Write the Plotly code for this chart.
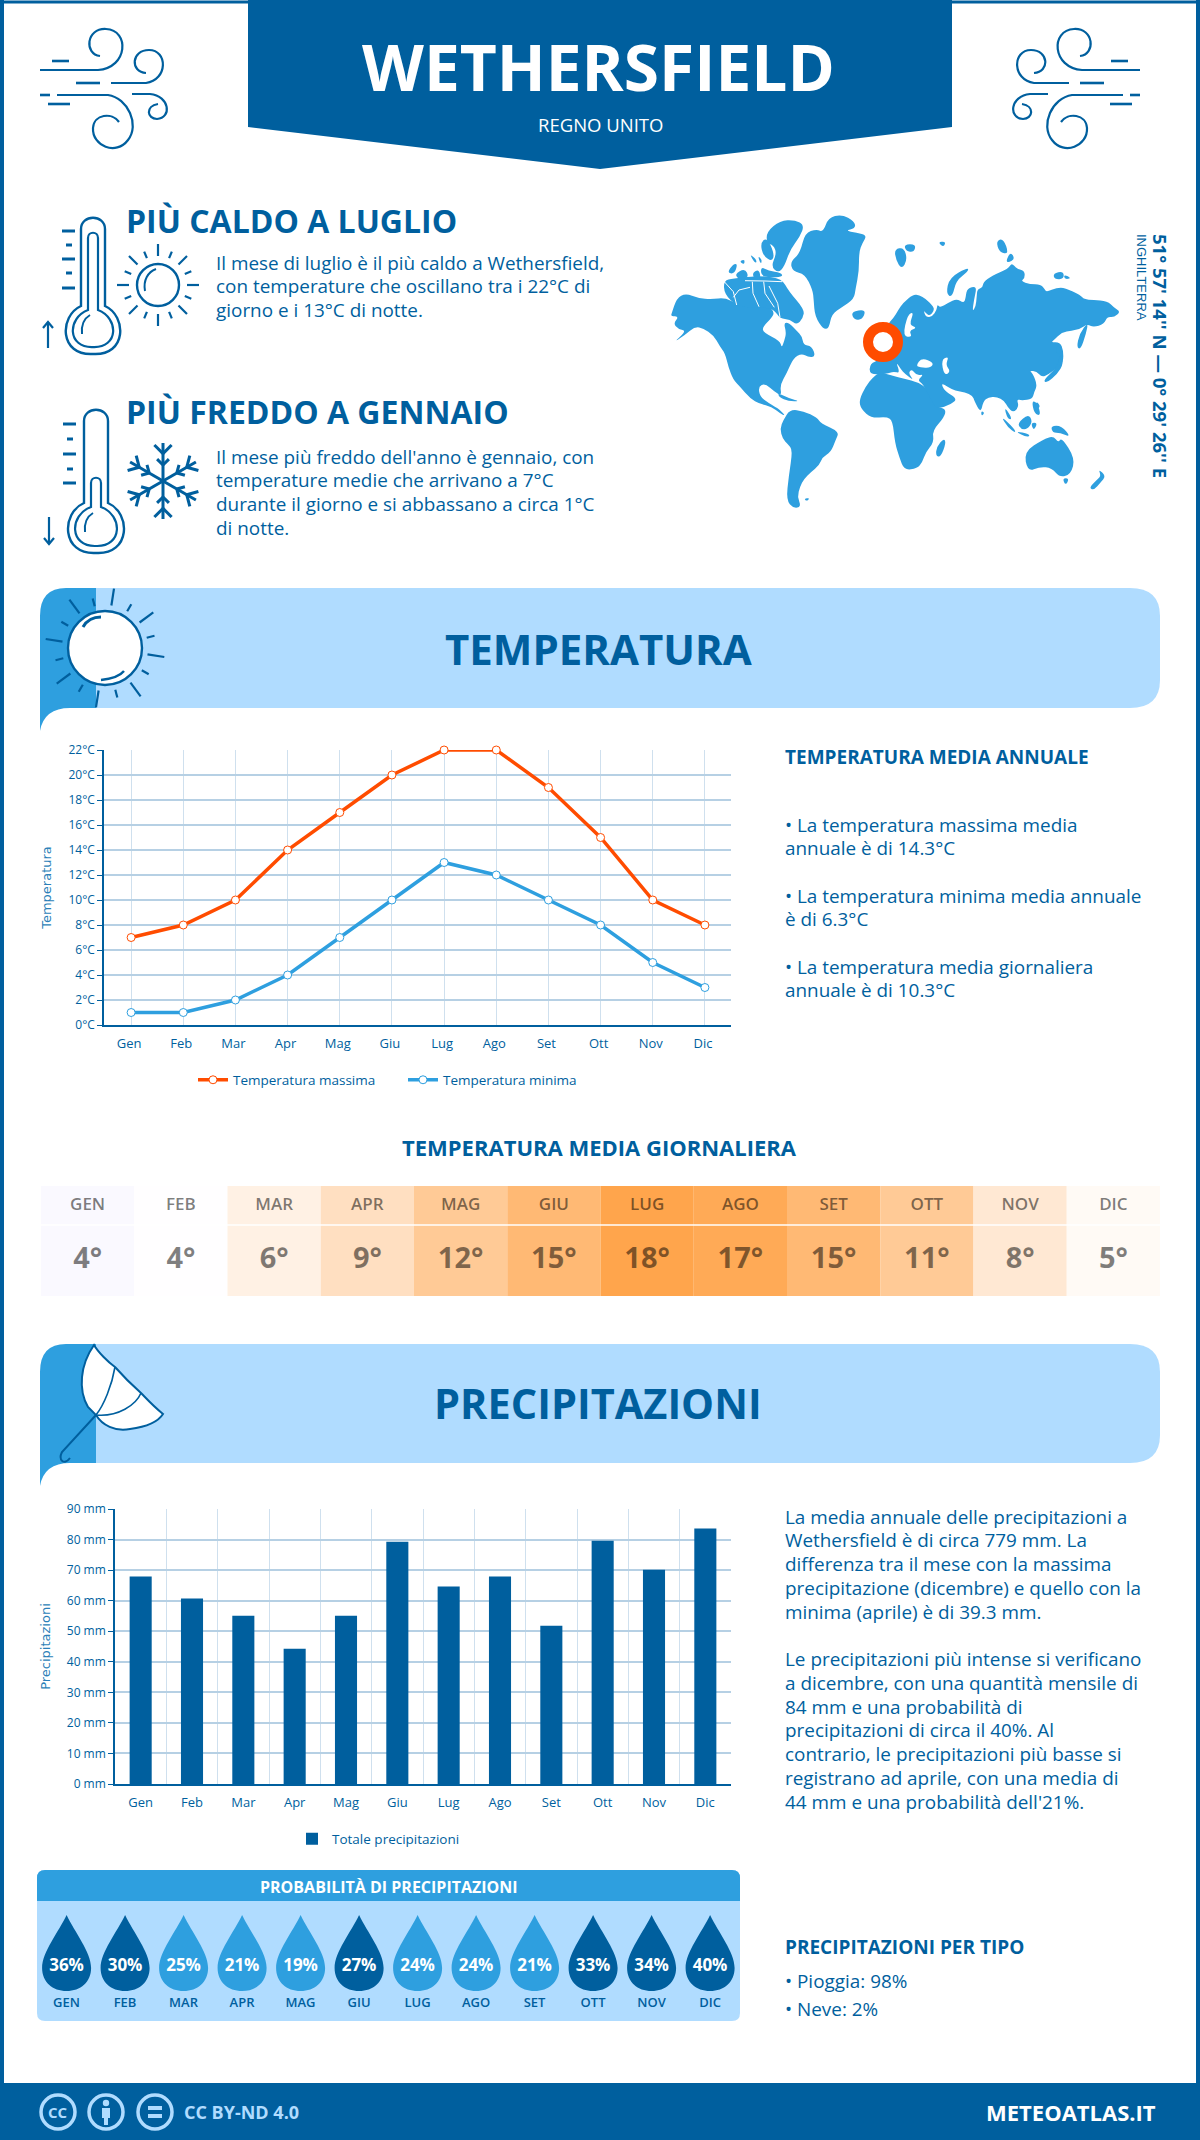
import math
import plotly.graph_objects as go

MONTHS = ["Gen", "Feb", "Mar", "Apr", "Mag", "Giu", "Lug", "Ago", "Set", "Ott", "Nov", "Dic"]
TEMP_MAX = [7, 8, 10, 14, 17, 20, 22, 22, 19, 15, 10, 8]
TEMP_MIN = [1, 1, 2, 4, 7, 10, 13, 12, 10, 8, 5, 3]
TEMP_MEAN = [4, 4, 6, 9, 12, 15, 18, 17, 15, 11, 8, 5]
RAIN_MM = [67.9, 60.7, 55.1, 44.3, 55.1, 79.3, 64.6, 67.9, 51.8, 79.6, 70.1, 83.6]
RAIN_PROB = [36, 30, 25, 21, 19, 27, 24, 24, 21, 33, 34, 40]
TEMP_TICKS = list(range(0, 23, 2))
RAIN_TICKS = list(range(0, 91, 10))

BLUE = "#005f9e"
MID = "#2e9fdf"
PALE = "#b0dcff"
ORANGE = "#ff4c00"
GRID = "#b6d0e4"
HEAT = ["#faf9ff", "#fffeff", "#fff1e4", "#ffdfc1", "#ffca96", "#ffb974",
        "#ffa54c", "#ffaa56", "#ffb974", "#ffca96", "#ffe8d3", "#fffaf5"]

W, H = 1200, 2140
shapes = []
notes = []


def dom_x(a, b):
    return [a / W, b / W]


def dom_y(top, bottom):
    return [1 - bottom / H, 1 - top / H]


def T(x, y, text, size, color=BLUE, weight=400, anchor="left", angle=0, family="Open Sans"):
    notes.append(dict(x=x, y=y, xref="x", yref="y", text=text, showarrow=False, xanchor=anchor,
                      yanchor="middle", textangle=angle,
                      font=dict(family=family, size=size, color=color, weight=weight)))


def lines(x, ys, rows, size, **kw):
    for y, row in zip(ys, rows):
        T(x, y, row, size, **kw)


def path(d, fill=None, line=None, width=2, layer="below"):
    shapes.append(dict(type="path", path=d, xref="x", yref="y", layer=layer,
                       fillcolor=fill or "rgba(0,0,0,0)",
                       line=dict(color=line or "rgba(0,0,0,0)", width=width if line else 0)))


def circle(cx, cy, r, fill=None, line=None, width=2, layer="below"):
    shapes.append(dict(type="circle", x0=cx - r, x1=cx + r, y0=cy - r, y1=cy + r, xref="x", yref="y",
                       layer=layer, fillcolor=fill or "rgba(0,0,0,0)",
                       line=dict(color=line or "rgba(0,0,0,0)", width=width if line else 0)))


def seg(x0, y0, x1, y1, color=BLUE, width=2):
    path(f"M{x0:.1f} {y0:.1f} L{x1:.1f} {y1:.1f}", line=color, width=width)


def round_rect(x0, y0, x1, y1, r):
    return (f"M{x0+r} {y0} L{x1-r} {y0} Q{x1} {y0} {x1} {y0+r} L{x1} {y1-r} Q{x1} {y1} {x1-r} {y1} "
            f"L{x0+r} {y1} Q{x0} {y1} {x0} {y1-r} L{x0} {y0+r} Q{x0} {y0} {x0+r} {y0} Z")


def wind(mx=None):
    def fx(x):
        return x if mx is None else mx - x

    def p(d):
        out = []
        for tok in d.split():
            if tok[0] in "MLC":
                out.append(tok[0] + f"{fx(float(tok[1:])):.1f}")
                odd = False
            else:
                val = float(tok)
                out.append(f"{val:.1f}" if not odd else f"{fx(val):.1f}")
                odd = not odd
        return " ".join(out)

    w = 2.2
    path(p("M40 70 L98 70 C128 68 130 30 106 29 C86 28 84 54 100 56"), line=BLUE, width=w)
    path(p("M111 83 L146 83 C168 80 168 50 149 50 C131 50 130 72 146 73"), line=BLUE, width=w)
    path(p("M57 95 L108 95 C128 98 140 125 128 140 C116 156 92 146 93 128 C94 114 112 112 119 122"), line=BLUE, width=w)
    path(p("M132 94 L150 94 C170 96 172 118 157 119 C147 119 145 106 158 104"), line=BLUE, width=w)
    for a, b, y in [(52, 69, 61), (76, 100, 83), (40, 50, 95), (48, 70, 104)]:
        path(p(f"M{a} {y} L{b} {y}"), line=BLUE, width=w + 0.4)


def thermometer(cx, top, by, r, inner_top, arrow_x, ay0, ay1, ticks, tx0):
    hw = 12
    stem = by - r + 4
    path(f"M{cx-hw} {stem} L{cx-hw} {top+hw} C{cx-hw} {top-3} {cx+hw} {top-3} {cx+hw} {top+hw} L{cx+hw} {stem} "
         f"C{cx+r+8} {by-r+14} {cx+r+8} {by+r+2} {cx} {by+r} C{cx-r-8} {by+r+2} {cx-r-8} {by-r+14} {cx-hw} {stem} Z",
         fill="white", line=BLUE, width=2.4)
    iw = 5
    ins = by - r + 8
    path(f"M{cx-iw} {ins} L{cx-iw} {inner_top+iw} C{cx-iw} {inner_top-2} {cx+iw} {inner_top-2} {cx+iw} {inner_top+iw} L{cx+iw} {ins} "
         f"C{cx+r} {by-r+16} {cx+r} {by+r-6} {cx} {by+r-7} C{cx-r} {by+r-6} {cx-r} {by-r+16} {cx-iw} {ins} Z",
         line=BLUE, width=2.2)
    path(f"M{cx-11} {by+6} C{cx-12} {by-4} {cx-8} {by-10} {cx-3} {by-13}", line=BLUE, width=2)
    for i, y in enumerate(ticks):
        seg(tx0 + (4 if i % 2 else 0), y, tx0 + (10 if i % 2 else 13), y, width=3)
    seg(arrow_x, ay0, arrow_x, ay1, width=2.2)
    d = 6 if ay1 > ay0 else -6
    path(f"M{arrow_x-5} {ay1-d} L{arrow_x} {ay1} L{arrow_x+5} {ay1-d}", line=BLUE, width=2.2)


def rays(cx, cy, r0, r1, n, start=0.0, alt=0, width=2.2, color=BLUE):
    for i in range(n):
        a = start + i * 2 * math.pi / n
        rr = r1 - (alt if i % 2 else 0)
        seg(cx + r0 * math.cos(a), cy + r0 * math.sin(a), cx + rr * math.cos(a), cy + rr * math.sin(a), color, width)


def snowflake(cx, cy, r):
    for i in range(6):
        a = i * math.pi / 3 + math.pi / 2
        ca, sa = math.cos(a), math.sin(a)
        seg(cx, cy, cx + r * ca, cy + r * sa, width=3)
        for f, b in [(0.72, 0.32), (0.42, 0.22)]:
            for sgn in (-1, 1):
                a2 = a + sgn * math.pi / 4
                seg(cx + r * f * ca, cy + r * f * sa, cx + r * f * ca + r * b * math.cos(a2),
                    cy + r * f * sa + r * b * math.sin(a2), width=3)


def banner(top, bottom):
    path(f"M96 {top} L1130 {top} Q1160 {top} 1160 {top+28} L1160 {bottom-28} Q1160 {bottom} 1130 {bottom} L96 {bottom} Z", fill=PALE)
    path(f"M96 {top} L66 {top} Q40 {top} 40 {top+28} L40 {bottom+23} Q44 {bottom} 70 {bottom} L96 {bottom} Z", fill=MID)


def land(pts, ox, oy, fill=MID):
    # rounded outline through edge midpoints, the outlines were traced at 3x
    pp = [(ox + x / 3, oy + y / 3) for x, y in pts]
    n = len(pp)
    mid = [((pp[i][0] + pp[(i + 1) % n][0]) / 2, (pp[i][1] + pp[(i + 1) % n][1]) / 2) for i in range(n)]
    d = f"M{mid[-1][0]:.1f} {mid[-1][1]:.1f}"
    for i in range(n):
        d += f" Q{pp[i][0]:.1f} {pp[i][1]:.1f} {mid[i][0]:.1f} {mid[i][1]:.1f}"
    path(d + " Z", fill=fill)


def channel(pts, ox, oy):
    d = "M" + " L".join(f"{ox + x / 3:.1f} {oy + y / 3:.1f}" for x, y in pts)
    path(d, line="white", width=1)


# page frame and header
path(f"M2 0 L2 {H}", line=BLUE, width=4)
path(f"M{W-2} 0 L{W-2} {H}", line=BLUE, width=4)
path(f"M0 2 L{W} 2", line=BLUE, width=3)
path("M248 0 L952 0 L952 127 L600 169 L248 127 Z", fill=BLUE)
wind()
wind(1180)
T(598.5, 66, "WETHERSFIELD", 64, "white", 700, "center")
T(600, 124, "REGNO UNITO", 18.5, "white", 400, "center")

# hottest and coldest months
thermometer(93, 217, 328, 26, 233, 48, 348, 322, [231, 245, 259, 273, 288], 62)
circle(158, 285, 21, line=BLUE, width=2.4)
path("M145 291 C143 280 148 272 156 269", line=BLUE, width=2)
rays(158, 285, 29, 41, 16, alt=5)
T(124, 220, "PIÙ CALDO A LUGLIO", 32, BLUE, 700)
lines(213.5, [263, 286, 310],
      ["Il mese di luglio è il più caldo a Wethersfield,",
       "con temperature che oscillano tra i 22°C di",
       "giorno e i 13°C di notte."], 18.9)

thermometer(96, 409, 526, 27, 478, 49, 517, 544, [424, 439, 454, 469, 483], 63)
snowflake(163, 481, 38)
T(124, 411, "PIÙ FREDDO A GENNAIO", 32, BLUE, 700)
lines(213.5, [457, 480, 504, 528],
      ["Il mese più freddo dell'anno è gennaio, con",
       "temperature medie che arrivano a 7°C",
       "durante il giorno e si abbassano a circa 1°C",
       "di notte."], 18.9)

# world map
land([(20, 310), (35, 265), (62, 250), (100, 265), (140, 268), (180, 263), (215, 282), (250, 290), (305, 283),
      (328, 305), (322, 322), (292, 352), (296, 368), (345, 392), (350, 414), (358, 392), (364, 368), (356, 338),
      (372, 338), (395, 362), (412, 380), (415, 405), (440, 408), (452, 440), (430, 442), (410, 430), (385, 445),
      (365, 490), (345, 525), (350, 558), (330, 546), (300, 520), (280, 530), (285, 560), (310, 578), (330, 590),
      (345, 600), (362, 618), (345, 610), (320, 590), (285, 582), (255, 565), (225, 530), (205, 510), (190, 470),
      (180, 430), (165, 410), (145, 375), (115, 355), (90, 350), (60, 375), (25, 398), (65, 362), (40, 358),
      (25, 340), (42, 320), (18, 318)], 665, 210)
# arctic islands sit close together, a shared block with thin channels cut through it
land([(176, 212), (205, 205), (262, 200), (290, 198), (350, 205), (372, 245), (418, 298), (414, 325), (395, 345),
      (375, 328), (345, 326), (328, 300), (300, 292), (250, 292), (215, 288), (178, 252)], 665, 210)
channel([(205, 262), (222, 240), (255, 232)], 665, 210)
channel([(215, 285), (205, 245), (178, 215)], 665, 210)
channel([(262, 215), (264, 250), (282, 290)], 665, 210)
channel([(296, 215), (300, 250), (328, 292)], 665, 210)
channel([(240, 212), (300, 213), (352, 215)], 665, 210)
channel([(312, 228), (338, 280), (345, 322)], 665, 210)
for isl in [[(305, 65), (345, 32), (390, 30), (418, 45), (405, 80), (375, 120), (358, 170), (340, 188), (318, 170), (335, 130), (325, 105), (305, 100)],
            [(286, 100), (305, 82), (328, 130), (322, 155), (295, 138)],
            [(186, 188), (205, 162), (218, 162), (208, 192)], [(208, 192), (240, 175), (252, 202), (225, 212)],
            [(262, 188), (282, 178), (288, 208), (268, 208)], [(288, 170), (310, 183), (348, 188), (354, 200), (310, 203), (288, 195)],
            [(252, 130), (276, 150), (272, 162)], [(223, 153), (240, 148), (237, 165)], [(278, 136), (292, 150), (287, 164)],
            [(376, 155), (405, 130), (420, 68), (455, 58), (475, 66), (490, 23), (530, 13), (568, 33), (572, 55), (540, 62),
             (575, 68), (606, 76), (592, 100), (582, 125), (582, 185), (572, 235), (567, 267), (530, 292), (500, 312),
             (492, 355), (475, 358), (450, 320), (446, 270), (443, 240), (420, 192), (383, 184)],
            [(558, 308), (585, 300), (602, 303), (592, 328), (568, 330)],
            [(338, 548), (375, 566), (405, 574), (370, 574), (343, 562)]]:
    land(isl, 665, 210)
land([(60, 145), (70, 120), (90, 88), (130, 93), (172, 113), (182, 130), (238, 155), (227, 180), (212, 217), (187, 232),
      (177, 257), (152, 277), (132, 297), (120, 320), (112, 350), (124, 380), (100, 385), (79, 360), (86, 290), (98, 210),
      (83, 192), (68, 177)], 760, 380)
land([(497, 12), (527, 80), (558, 86), (553, 112), (517, 152), (522, 187), (497, 217), (487, 247), (472, 265), (433, 271),
      (418, 232), (405, 190), (398, 122), (380, 110), (335, 115), (303, 87), (297, 60), (318, 18), (338, -7), (360, -24),
      (410, -9)], 760, 380)
for isl in [[(552, 175), (558, 190), (542, 231), (527, 228), (530, 200)],
            [(792, 215), (850, 178), (880, 168), (895, 188), (905, 172), (945, 235), (933, 282), (900, 293), (875, 264), (840, 260), (803, 275)],
            [(907, 295), (928, 295), (917, 317)],
            [(1015, 267), (1038, 288), (1022, 307), (1002, 330), (987, 324), (1010, 300), (1023, 288)],
            [(722, 107), (762, 145), (768, 160), (743, 142)], [(762, 152), (812, 163), (802, 173)],
            [(772, 130), (805, 102), (818, 125), (802, 148), (783, 148)], [(812, 128), (833, 128), (821, 153)],
            [(815, 62), (832, 68), (843, 107), (823, 102)], [(872, 137), (905, 137), (933, 172), (900, 158), (878, 158)],
            [(732, 78), (758, 117), (743, 118)], [(132, 356), (150, 354), (140, 364)]]:
    land(isl, 760, 380)
land([(20, 345), (40, 325), (55, 300), (70, 278), (100, 253), (118, 256), (137, 266), (161, 290), (162, 302), (150, 318),
      (138, 310), (130, 300), (138, 322), (157, 320), (170, 300), (172, 283), (180, 293), (205, 278), (230, 266), (250, 278),
      (256, 270), (260, 238), (278, 230), (290, 233), (282, 270), (277, 305), (287, 290), (290, 260), (292, 238), (308, 233),
      (310, 216), (335, 198), (385, 176), (395, 158), (410, 176), (434, 183), (434, 205), (422, 213), (450, 223), (482, 223),
      (494, 238), (500, 246), (530, 233), (555, 233), (602, 256), (612, 268), (640, 270), (682, 273), (702, 293), (722, 305),
      (702, 322), (682, 320), (672, 342), (640, 352), (622, 342), (600, 357), (575, 362), (545, 367), (522, 390), (513, 397),
      (540, 397), (550, 420), (550, 457), (532, 472), (507, 492), (485, 502), (470, 484), (448, 482), (458, 490), (472, 525),
      (462, 547), (457, 567), (425, 572), (410, 567), (417, 590), (400, 608), (383, 592), (373, 572), (350, 560), (325, 562),
      (310, 574), (302, 610), (283, 572), (278, 557), (255, 547), (225, 542), (205, 532), (183, 518), (193, 542), (232, 566),
      (215, 582), (170, 598), (158, 577), (133, 532), (126, 520), (113, 510), (132, 493), (110, 497), (95, 477), (85, 490),
      (102, 512), (75, 492), (62, 477), (48, 455), (60, 490), (40, 484), (20, 492), (-32, 494), (-30, 460), (0, 450)], 880, 210)
for isl in [[(43, 118), (72, 112), (82, 150), (65, 178), (48, 150)], [(72, 103), (108, 103), (102, 127), (78, 124)],
            [(173, 96), (198, 94), (191, 112)], [(198, 252), (208, 203), (264, 172), (265, 184), (228, 212), (217, 262)],
            [(348, 93), (370, 85), (387, 132), (358, 127)], [(378, 152), (392, 125), (405, 147), (385, 158)],
            [(520, 190), (550, 183), (552, 207), (523, 208)], [(552, 193), (575, 205), (553, 208)],
            [(598, 372), (625, 335), (618, 372), (602, 418), (590, 412)],
            [(488, 512), (530, 473), (542, 428), (551, 460), (532, 492), (502, 518)], [(533, 398), (548, 430), (528, 433)],
            [(303, 603), (314, 608), (305, 619)], [(468, 572), (483, 590), (463, 602)]]:
    land(isl, 880, 210)
for cut in [[(83, 313), (102, 306), (87, 345), (112, 353), (87, 362), (97, 382), (68, 378)],
            [(108, 467), (125, 443), (162, 458), (152, 474), (120, 472)],
            [(183, 450), (207, 438), (197, 465), (212, 485), (193, 497)]]:
    land(cut, 880, 210, "white")
circle(883, 342, 15, fill="white", line=ORANGE, width=10)
T(1161, 356, "51° 57' 14'' N — 0° 29' 26'' E", 18.5, BLUE, 700, "center", 90)
T(1142, 277, "INGHILTERRA", 13, BLUE, 400, "center", 90, "Liberation Sans")

# temperature section
banner(588, 708)
circle(105, 648, 37, fill="white", line=BLUE, width=2.4)
path("M83 627 C87 620 93 617 101 617", line=BLUE, width=3)
path("M101 680 C110 679 120 676 124 671", line=BLUE, width=2.4)
rays(105, 648, 43, 60, 16, start=0.15, alt=9)
T(598, 648, "TEMPERATURA", 42, BLUE, 700, "center")
T(783, 757, "TEMPERATURA MEDIA ANNUALE", 19, BLUE, 700)
lines(783, [825, 848, 896, 919, 967, 990],
      ["• La temperatura massima media", "annuale è di 14.3°C",
       "• La temperatura minima media annuale", "è di 6.3°C",
       "• La temperatura media giornaliera", "annuale è di 10.3°C"], 18.9)
T(599, 1147, "TEMPERATURA MEDIA GIORNALIERA", 22, BLUE, 700, "center")
shapes.append(dict(type="line", x0=41, x1=1160, y0=1225, y1=1225, xref="x", yref="y", layer="above",
                   line=dict(color="white", width=1.5)))

# rain section
banner(1344, 1463)
path("M94 1345 C80 1365 78 1390 88 1407 L96 1415 C102 1425 115 1432 130 1429 C145 1427 158 1422 163 1414 "
     "C152 1405 146 1398 141 1393 C132 1385 122 1375 115 1367 C108 1362 98 1352 94 1345 Z",
     fill="white", line=BLUE, width=2)
path("M96 1415 L62 1452 C58 1460 64 1466 70 1458", line=BLUE, width=2)
path("M115 1367 C112 1385 104 1405 96 1415", line=BLUE, width=1.6)
path("M141 1393 C136 1405 118 1417 96 1415", line=BLUE, width=1.6)
T(598, 1403, "PRECIPITAZIONI", 41.5, BLUE, 700, "center")
lines(783, [1517, 1540, 1564, 1588, 1612],
      ["La media annuale delle precipitazioni a",
       "Wethersfield è di circa 779 mm. La",
       "differenza tra il mese con la massima",
       "precipitazione (dicembre) e quello con la",
       "minima (aprile) è di 39.3 mm."], 18.9)
lines(783, [1659, 1683, 1707, 1730, 1754, 1778, 1802],
      ["Le precipitazioni più intense si verificano",
       "a dicembre, con una quantità mensile di",
       "84 mm e una probabilità di",
       "precipitazioni di circa il 40%. Al",
       "contrario, le precipitazioni più basse si",
       "registrano ad aprile, con una media di",
       "44 mm e una probabilità dell'21%."], 18.9)

# rain probability panel
path(round_rect(37, 1870, 740, 2021, 8), fill=PALE)
path("M37 1901 L37 1878 Q37 1870 45 1870 L732 1870 Q740 1870 740 1878 L740 1901 Z", fill=MID)
T(389, 1887, "PROBABILITÀ DI PRECIPITAZIONI", 16, "white", 700, "center")
for i, v in enumerate(RAIN_PROB):
    cx = 66.6 + 58.5 * i
    path(f"M{cx:.1f} 1915 C{cx+8:.1f} 1932 {cx+24.5:.1f} 1952 {cx+24.5:.1f} 1968 "
         f"C{cx+24.5:.1f} 1982 {cx+14:.1f} 1991 {cx:.1f} 1991 C{cx-14:.1f} 1991 {cx-24.5:.1f} 1982 {cx-24.5:.1f} 1968 "
         f"C{cx-24.5:.1f} 1952 {cx-8:.1f} 1932 {cx:.1f} 1915 Z", fill=BLUE if v > 25 else MID)
T(783, 1947, "PRECIPITAZIONI PER TIPO", 19, BLUE, 700)
lines(783, [1981, 2009], ["• Pioggia: 98%", "• Neve: 2%"], 18.9)

# footer
path(f"M0 2083 L{W} 2083 L{W} {H} L0 {H} Z", fill=BLUE)
for cx in (58, 106, 155):
    circle(cx, 2112, 17, line=PALE, width=3.5)
T(58, 2112, "CC", 15, PALE, 700, "center")
circle(106, 2103, 3.2, fill=PALE)
path("M102 2108 L110 2108 L110 2118 L108 2118 L108 2125 L104 2125 L104 2118 L102 2118 Z", fill=PALE)
path("M148 2106 L162 2106 L162 2110 L148 2110 Z M148 2114 L162 2114 L162 2118 L148 2118 Z", fill=PALE)
T(182, 2112, "CC BY-ND 4.0", 18, PALE, 700)
T(1158, 2112, "METEOATLAS.IT", 22, "white", 700, "right")

fig = go.Figure()

# page layer, only there so the pixel axes exist
fig.add_trace(go.Scatter(x=[0], y=[0], mode="none", showlegend=False, hoverinfo="skip", xaxis="x", yaxis="y"))

fig.add_trace(go.Scatter(x=MONTHS, y=TEMP_MAX, name="Temperatura massima", mode="lines+markers", xaxis="x2", yaxis="y2",
                         line=dict(color=ORANGE, width=3.5), cliponaxis=False,
                         marker=dict(color="white", size=8, line=dict(color=ORANGE, width=1))))
fig.add_trace(go.Scatter(x=MONTHS, y=TEMP_MIN, name="Temperatura minima", mode="lines+markers", xaxis="x2", yaxis="y2",
                         line=dict(color=MID, width=3.5), cliponaxis=False,
                         marker=dict(color="white", size=8, line=dict(color=MID, width=1))))

fig.add_trace(go.Bar(x=MONTHS, y=[1] * 12, width=1, marker=dict(color=HEAT, line=dict(width=0)), showlegend=False,
                     hoverinfo="skip", xaxis="x3", yaxis="y3"))
fig.add_trace(go.Scatter(x=MONTHS, y=[0.82] * 12, mode="text", text=[m.upper() for m in MONTHS], showlegend=False,
                         textfont=dict(family="Open Sans", size=17, weight=600, color="rgba(0,0,0,0.52)"),
                         xaxis="x3", yaxis="y3"))
fig.add_trace(go.Scatter(x=MONTHS, y=[0.32] * 12, mode="text", text=[f"{v}°" for v in TEMP_MEAN], showlegend=False,
                         textfont=dict(family="Open Sans", size=29, weight=700, color="rgba(0,0,0,0.5)"),
                         xaxis="x3", yaxis="y3"))

fig.add_trace(go.Bar(x=MONTHS, y=RAIN_MM, name="Totale precipitazioni", width=0.43, marker=dict(color=BLUE, line=dict(width=0)),
                     xaxis="x4", yaxis="y4", legend="legend2"))

fig.add_trace(go.Scatter(x=MONTHS, y=[0.45] * 12, mode="text", text=[f"{v}%" for v in RAIN_PROB], showlegend=False,
                         textfont=dict(family="Open Sans", size=17, weight=700, color="white"),
                         xaxis="x5", yaxis="y5"))
fig.add_trace(go.Scatter(x=MONTHS, y=[0.14] * 12, mode="text", text=[m.upper() for m in MONTHS], showlegend=False,
                         textfont=dict(family="Open Sans", size=13, weight=600, color=BLUE),
                         xaxis="x5", yaxis="y5"))

tick_font = dict(family="Open Sans", size=12, color=BLUE)
month_font = dict(family="Open Sans", size=13, color=BLUE)
title_font = dict(family="DejaVu Sans", size=13, color="#2b7fb8")


def month_axis(**kw):
    return dict(type="category", categoryorder="array", categoryarray=MONTHS, tickfont=month_font, showline=True,
                linecolor=BLUE, linewidth=2, ticks="", fixedrange=True, anchor=kw.pop("anchor"), **kw)


def value_axis(**kw):
    return dict(showline=True, linecolor=BLUE, linewidth=1.5, ticks="outside", ticklen=5, tickcolor=BLUE, tickwidth=1,
                tickfont=tick_font, showgrid=True, gridcolor=GRID, gridwidth=1.5, zeroline=False, fixedrange=True,
                tickmode="array", **kw)


hidden = dict(visible=False, fixedrange=True)

fig.update_layout(
    width=W,
    height=H,
    margin=dict(l=0, r=0, t=0, b=0, autoexpand=False),
    paper_bgcolor="white",
    plot_bgcolor="rgba(0,0,0,0)",
    showlegend=True,
    hovermode=False,
    shapes=shapes,
    annotations=notes,
    xaxis=dict(domain=[0, 1], range=[0, W], anchor="y", **hidden),
    yaxis=dict(domain=[0, 1], range=[H, 0], anchor="x", **hidden),
    xaxis2=month_axis(anchor="y2", domain=dom_x(104, 731), range=[-0.52, 11.5], showgrid=True, gridcolor="#cfe0ee",
                      gridwidth=1, ticklabelstandoff=5, ticklabelshift=-2),
    yaxis2=value_axis(anchor="x2", domain=dom_y(750, 1025), range=[0, 22], tickvals=TEMP_TICKS,
                      ticktext=[f"{v}°C" for v in TEMP_TICKS],
                      title=dict(text="Temperatura", font=title_font, standoff=14)),
    xaxis3=dict(anchor="y3", domain=dom_x(41, 1160), range=[-0.5, 11.5], type="category", **hidden),
    yaxis3=dict(anchor="x3", domain=dom_y(1186, 1296), range=[0, 1], **hidden),
    xaxis4=month_axis(anchor="y4", domain=dom_x(115, 731), range=[-0.5, 11.5], showgrid=True, gridcolor="#cfe0ee",
                      gridwidth=1, tickson="boundaries", ticklabelstandoff=5),
    yaxis4=value_axis(anchor="x4", domain=dom_y(1509, 1784), range=[0, 90], tickvals=RAIN_TICKS,
                      ticktext=[f"{v} mm" for v in RAIN_TICKS],
                      title=dict(text="Precipitazioni", font=title_font, standoff=13)),
    xaxis5=dict(anchor="y5", domain=dom_x(37.3, 739.3), range=[-0.5, 11.5], type="category", **hidden),
    yaxis5=dict(anchor="x5", domain=dom_y(1901, 2021), range=[0, 1], **hidden),
    legend=dict(orientation="h", x=193 / W, y=1 - 1080 / H, xanchor="left", yanchor="middle", entrywidth=165,
                bgcolor="rgba(0,0,0,0)", font=dict(family="Open Sans", size=13.5, color=BLUE)),
    legend2=dict(orientation="h", x=292 / W, y=1 - 1839 / H, xanchor="left", yanchor="middle",
                 bgcolor="rgba(0,0,0,0)", font=dict(family="Open Sans", size=13.5, color=BLUE)),
)

fig.write_html("out.html", config=dict(displayModeBar=False), post_script="document.body.style.margin='0';")
